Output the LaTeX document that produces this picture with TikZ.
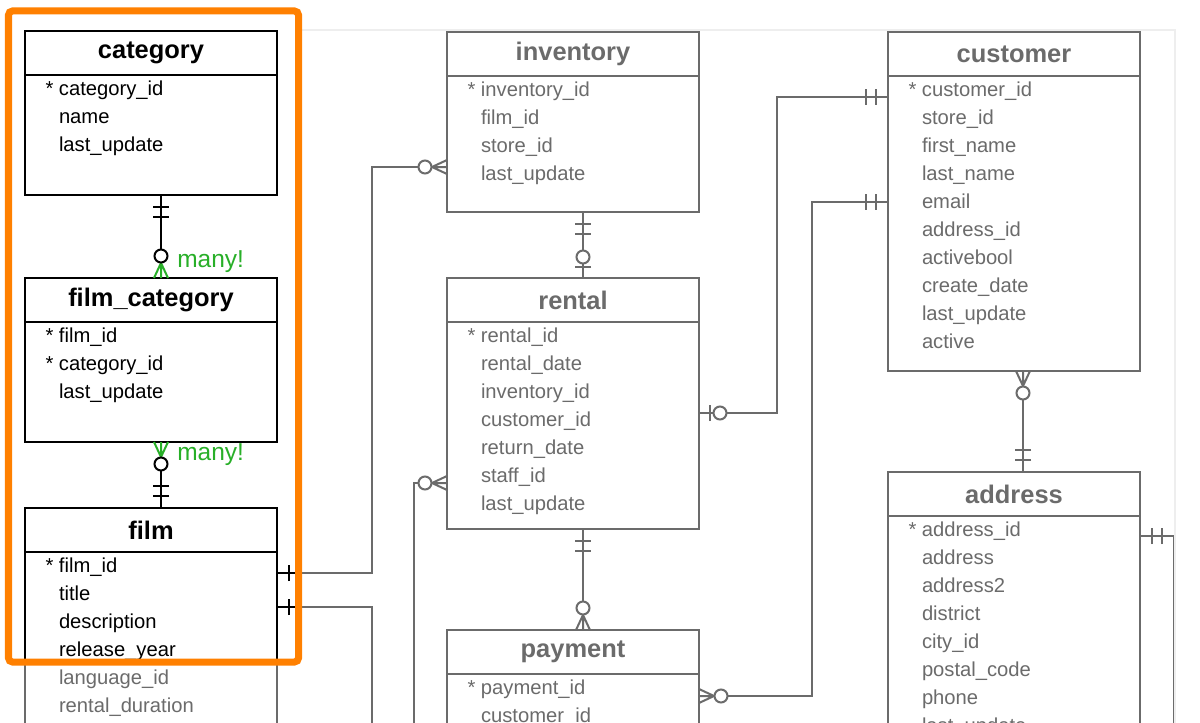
\documentclass[tikz,border=0pt]{standalone}
\usepackage{fontspec}
\setmainfont{Liberation Sans}
\usetikzlibrary{arrows.meta,calc,positioning}
\definecolor{ink}{RGB}{0,0,0}
\definecolor{hilite}{RGB}{255,128,0}
\definecolor{many}{RGB}{40,175,40}
\definecolor{frame}{RGB}{238,238,238}
\def\ColA{25}
\def\ColB{447}
\def\ColC{888}
\tikzset{
  tblhead/.style={
    draw=ink, line width=0.5mm, fill=white, anchor=north west,
    minimum width=63mm, minimum height=11mm, inner sep=0pt, outer sep=0pt,
    font=\fontsize{18.1}{21}\selectfont\bfseries, text=ink,
  },
  tblbody/.style={
    draw=ink, line width=0.5mm, fill=white, anchor=north west,
    minimum width=63mm, inner sep=0pt, outer sep=0pt,
  },
  fields/.style={
    anchor=north west, align=left, inner sep=0pt, outer sep=0pt,
    font=\fontsize{14.37}{19.92}\selectfont, text=ink,
  },
  rel/.style={line width=0.5mm, draw=ink},
  cardline/.style={line width=0.5mm, draw=ink},
  manylbl/.style={anchor=west, inner sep=0pt, text=many,
    font=\fontsize{17.4}{20}\selectfont},
  hlbox/.style={draw=hilite, line width=1.75mm, rounded corners=1mm},
  mandone/.pic={
    \draw[cardline] (-12,-8) -- (-12,8) (-22,-8) -- (-22,8);
  },
  zeroone/.pic={
    \draw[cardline] (-11,-8) -- (-11,8);
    \draw[cardline, fill=white] (-21,0) circle (6.5);
  },
  pics/zeromany/.style={code={
    \draw[cardline, draw=#1] (-15,0) -- (0,-7) (-15,0) -- (0,0) (-15,0) -- (0,7);
    \draw[cardline, fill=white] (-22,0) circle (6.5);
  }},
  pics/zeromany/.default=ink,
}

\begin{document}
\begin{tikzpicture}[x=0.25mm,y=-0.25mm]
  \useasboundingbox (0,0) rectangle (1200,723);
  \clip (0,0) rectangle (1200,723);
  \fill[white] (0,0) rectangle (1200,723);

  \node[tblhead] (cath) at (\ColA,31) {category};
  \node[tblbody, minimum height=30mm] (catb) at (cath.south west) {};
  \node[fields] (catf) at ($(catb.north west)+(34,6)$) {\llap{*\ }category\_id\\name\\last\_update};

  \node[tblhead] (fch) at (\ColA,278) {film\_category};
  \node[tblbody, minimum height=30mm] (fcb) at (fch.south west) {};
  \node[fields] (fcf) at ($(fcb.north west)+(34,6)$) {\llap{*\ }film\_id\\\llap{*\ }category\_id\\last\_update};

  \node[tblhead] (filmh) at (\ColA,508) {film};
  \node[tblbody, minimum height=100mm] (filmb) at (filmh.south west) {};
  \node[fields] (filmf) at ($(filmb.north west)+(34,6)$) {\llap{*\ }film\_id\\title\\description\\release\_year\\language\_id\\rental\_duration};

  \node[tblhead] (invh) at (\ColB,32) {inventory};
  \node[tblbody, minimum height=34mm] (invb) at (invh.south west) {};
  \node[fields] (invf) at ($(invb.north west)+(34,6)$) {\llap{*\ }inventory\_id\\film\_id\\store\_id\\last\_update};

  \node[tblhead] (renh) at (\ColB,278) {rental};
  \node[tblbody, minimum height=51.75mm] (renb) at (renh.south west) {};
  \node[fields] (renf) at ($(renb.north west)+(34,6)$) {\llap{*\ }rental\_id\\rental\_date\\inventory\_id\\customer\_id\\return\_date\\staff\_id\\last\_update};

  \node[tblhead] (payh) at (\ColB,630) {payment};
  \node[tblbody, minimum height=60mm] (payb) at (payh.south west) {};
  \node[fields] (payf) at ($(payb.north west)+(34,6)$) {\llap{*\ }payment\_id\\customer\_id};

  \node[tblhead] (custh) at (\ColC,32) {customer};
  \node[tblbody, minimum height=73.75mm] (custb) at (custh.south west) {};
  \node[fields] (custf) at ($(custb.north west)+(34,6)$) {\llap{*\ }customer\_id\\store\_id\\first\_name\\last\_name\\email\\address\_id\\activebool\\create\_date\\last\_update\\active};

  \node[tblhead] (addrh) at (\ColC,472) {address};
  \node[tblbody, minimum height=80mm] (addrb) at (addrh.south west) {};
  \node[fields] (addrf) at ($(addrb.north west)+(34,6)$) {\llap{*\ }address\_id\\address\\address2\\district\\city\_id\\postal\_code\\phone\\last\_update};

  \coordinate (c1a) at ($(catb.south west)+(136,0)$);
  \coordinate (c1b) at ($(fch.north west)+(136,0)$);
  \draw[rel] (c1a) -- (c1b);
  \pic[rotate=90] at (c1a) {mandone};
  \pic[rotate=270] at (c1b) {zeromany=many};

  \coordinate (c2a) at ($(fcb.south west)+(136,0)$);
  \coordinate (c2b) at ($(filmh.north west)+(136,0)$);
  \draw[rel] (c2a) -- (c2b);
  \pic[rotate=90] at (c2a) {zeromany=many};
  \pic[rotate=270] at (c2b) {mandone};

  \coordinate (c3a) at ($(filmb.north east)+(0,21)$);
  \coordinate (c3b) at ($(invb.north west)+(0,91)$);
  \draw[rel] (c3a) -| ($(c3b)+(-75,0)$) -- (c3b);
  \pic[rotate=180] at (c3a) {mandone};
  \pic at (c3b) {zeromany};

  \coordinate (c4a) at ($(filmb.north east)+(0,55)$);
  \coordinate (c4z) at (372,760);
  \draw[rel] (c4a) -| (c4z);
  \pic[rotate=180] at (c4a) {mandone};

  \coordinate (c5a) at ($(invb.south west)+(136,0)$);
  \coordinate (c5b) at ($(renh.north west)+(136,0)$);
  \draw[rel] (c5a) -- (c5b);
  \pic[rotate=90] at (c5a) {mandone};
  \pic[rotate=270] at (c5b) {zeroone};

  \coordinate (c6a) at ($(renb.north west)+(0,161)$);
  \coordinate (c6z) at (414,760);
  \draw[rel] (c6a) -| (c6z);
  \pic at (c6a) {zeromany};

  \coordinate (c7a) at ($(renb.north east)+(0,91)$);
  \coordinate (c7b) at ($(custb.north west)+(0,21)$);
  \draw[rel] (c7a) -| ($(c7b)+(-111,0)$) -- (c7b);
  \pic[rotate=180] at (c7a) {zeroone};
  \pic at (c7b) {mandone};

  \coordinate (c8a) at ($(payb.north east)+(0,22)$);
  \coordinate (c8b) at ($(custb.north west)+(0,126)$);
  \draw[rel] (c8a) -| ($(c8b)+(-76,0)$) -- (c8b);
  \pic[rotate=180] at (c8a) {zeromany};
  \pic at (c8b) {mandone};

  \coordinate (c9a) at ($(renb.south west)+(136,0)$);
  \coordinate (c9b) at ($(payh.north west)+(136,0)$);
  \draw[rel] (c9a) -- (c9b);
  \pic[rotate=90] at (c9a) {mandone};
  \pic[rotate=270] at (c9b) {zeromany};

  \coordinate (c10a) at ($(custb.south west)+(135,0)$);
  \coordinate (c10b) at ($(addrh.north west)+(135,0)$);
  \draw[rel] (c10a) -- (c10b);
  \pic[rotate=90] at (c10a) {zeromany};
  \pic[rotate=270] at (c10b) {mandone};

  \coordinate (c11a) at ($(addrb.north east)+(0,20)$);
  \coordinate (c11z) at (1174,760);
  \draw[rel] (c11a) -| (c11z);
  \pic[rotate=180] at (c11a) {mandone};

  % dim everything outside the highlight
  \fill[white, fill opacity=0.42, even odd rule] (0,0) rectangle (1200,723) (8.5,11) rectangle (298.5,662);
  \draw[frame, line width=0.3mm] (300,30) -- (1175,30) -- (1175,723);

  \node[manylbl] (many1) at ($(c1b)+(16,-16)$) {many!};
  \node[manylbl] (many2) at ($(c2a)+(16,13)$) {many!};
  \draw[hlbox] (8.5,11) rectangle (298.5,662);
\end{tikzpicture}
\end{document}
